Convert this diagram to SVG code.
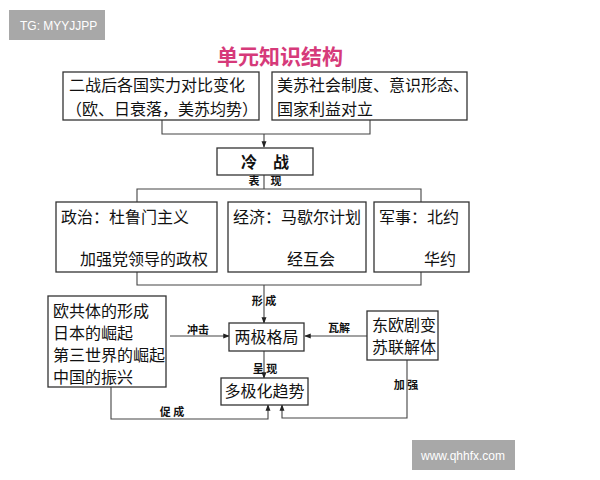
<svg xmlns="http://www.w3.org/2000/svg" width="600" height="480" viewBox="0 0 600 480">
<style>
.b{fill:#fff;stroke:#333;stroke-width:1.3}
.t{font-family:"Noto Sans CJK SC",sans-serif;font-size:16px;fill:#111}
.s{font-family:"Noto Sans CJK SC",sans-serif;font-size:11px;font-weight:bold;fill:#111}
.c{fill:none;stroke:#444;stroke-width:1.1}
</style>
<defs><marker id="a" viewBox="0 0 8 8" refX="7" refY="4" markerWidth="6" markerHeight="6" orient="auto-start-reverse"><path d="M0,1 L8,4 L0,7z" fill="#222"/></marker></defs>
<rect width="600" height="480" fill="#fff"/>
<rect x="9" y="10" width="96" height="30" fill="#a8a8a8"/>
<text x="20" y="30" font-family="Liberation Sans,sans-serif" font-size="12" fill="#fff">TG: MYYJJPP</text>
<rect x="412" y="440" width="103" height="30" fill="#a8a8a8"/>
<text x="421" y="460" font-family="Liberation Sans,sans-serif" font-size="12" fill="#fff">www.qhhfx.com</text>
<text x="280" y="64" text-anchor="middle" font-family="Noto Sans CJK SC,sans-serif" font-size="21" font-weight="bold" fill="#d63a7a">单元知识结构</text>
<g id="connectors">
<path class="c" d="M162,120V134H370V120"/>
<path class="c" d="M264,134V147" marker-end="url(#a)"/>
<path class="c" d="M264,175V189M137,202V189H421V202"/>
<path class="c" d="M137,272V285H421V272"/>
<path class="c" d="M264,285V323" marker-end="url(#a)"/>
<path class="c" d="M170,336H229" marker-end="url(#a)"/>
<path class="c" d="M367,336H305" marker-end="url(#a)"/>
<path class="c" d="M264,351V378" marker-end="url(#a)"/>
<path class="c" d="M111,387V419H268V405" marker-end="url(#a)"/>
<path class="c" d="M407,360V418H282V405" marker-end="url(#a)"/>
<path class="c" d="M140,229V245" marker-start="url(#a)" marker-end="url(#a)"/>
<path class="c" d="M311,229V245" marker-start="url(#a)" marker-end="url(#a)"/>
<path class="c" d="M439,229V245" marker-start="url(#a)" marker-end="url(#a)"/>
<text class="s" x="254" y="185" text-anchor="middle">表</text>
<text class="s" x="276" y="185" text-anchor="middle">现</text>
<text class="s" x="264" y="305" text-anchor="middle">形 成</text>
<text class="s" x="198" y="334" text-anchor="middle">冲击</text>
<text class="s" x="339" y="332" text-anchor="middle">瓦解</text>
<text class="s" x="265" y="373" text-anchor="middle">呈 现</text>
<text class="s" x="172" y="416" text-anchor="middle">促 成</text>
<text class="s" x="406" y="389" text-anchor="middle">加 强</text>
</g>
<g id="n1"><rect class="b" x="63" y="72" width="196" height="48"/><text class="t" x="69" y="91">二战后各国实力对比变化</text><text class="t" x="66" y="115">（欧、日衰落，美苏均势）</text></g>
<g id="n2"><rect class="b" x="272" y="72" width="195" height="48"/><text class="t" x="277" y="91">美苏社会制度、意识形态、</text><text class="t" x="277" y="115">国家利益对立</text></g>
<g id="n3"><rect class="b" x="217" y="148" width="96" height="27"/><text class="t" x="265" y="168" text-anchor="middle" font-weight="bold">冷　战</text></g>
<g id="n4"><rect class="b" x="56" y="202" width="161" height="70"/><text class="t" x="61" y="223">政治：杜鲁门主义</text><text class="t" x="80" y="265">加强党领导的政权</text></g>
<g id="n5"><rect class="b" x="228" y="202" width="138" height="70"/><text class="t" x="233" y="223">经济：马歇尔计划</text><text class="t" x="287" y="265">经互会</text></g>
<g id="n6"><rect class="b" x="374" y="202" width="95" height="70"/><text class="t" x="379" y="223">军事：北约</text><text class="t" x="424" y="265">华约</text></g>
<g id="n7"><rect class="b" x="48" y="296" width="118" height="91"/><text class="t" x="53" y="317">欧共体的形成</text><text class="t" x="53" y="339">日本的崛起</text><text class="t" x="53" y="361">第三世界的崛起</text><text class="t" x="53" y="383">中国的振兴</text></g>
<g id="n8"><rect class="b" x="229" y="323" width="75" height="28"/><text class="t" x="266.5" y="343" text-anchor="middle">两极格局</text></g>
<g id="n9"><rect class="b" x="367" y="311" width="71" height="49"/><text class="t" x="372" y="331">东欧剧变</text><text class="t" x="372" y="353">苏联解体</text></g>
<g id="n10"><rect class="b" x="221" y="378" width="87" height="27"/><text class="t" x="264.5" y="397" text-anchor="middle">多极化趋势</text></g>
</svg>
